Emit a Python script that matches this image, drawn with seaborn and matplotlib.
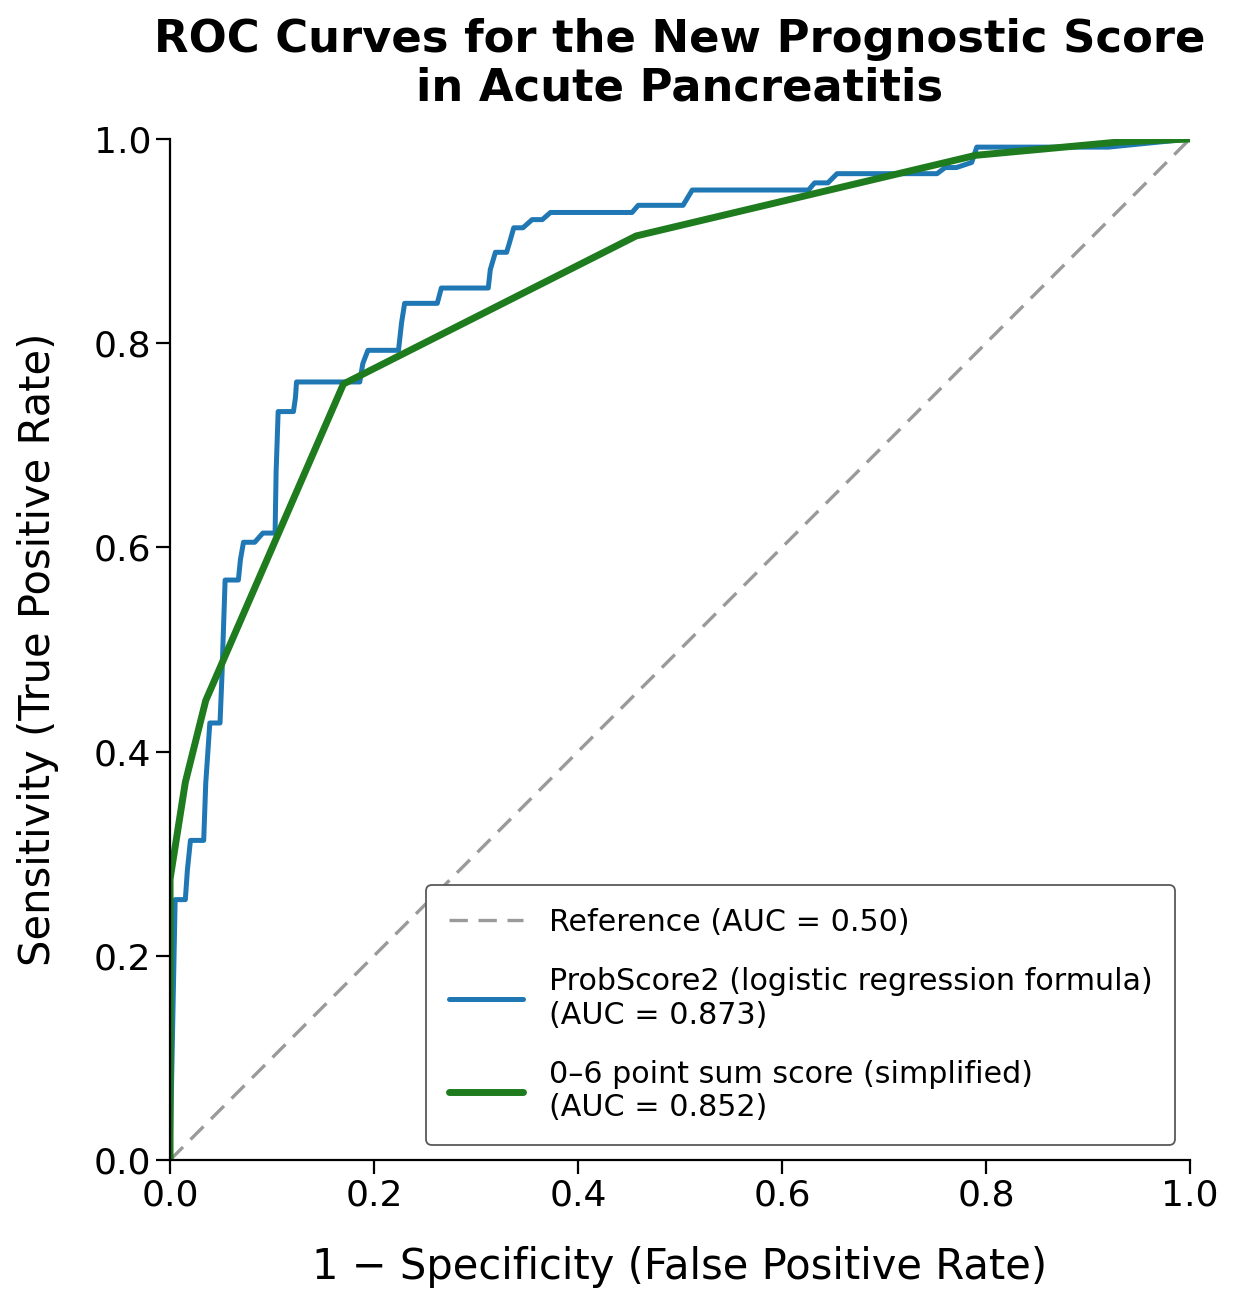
import matplotlib
matplotlib.use("Agg")
import matplotlib.pyplot as plt
import seaborn as sns

# ROC points
prob_fpr = [0.0, 0.005, 0.015, 0.017, 0.020, 0.033, 0.035, 0.039, 0.049, 0.051,
            0.052, 0.054, 0.067, 0.069, 0.072, 0.083, 0.091, 0.103, 0.104, 0.106,
            0.121, 0.123, 0.124, 0.186, 0.189, 0.194, 0.224, 0.227, 0.230, 0.262,
            0.266, 0.312, 0.314, 0.319, 0.330, 0.333, 0.337, 0.346, 0.355, 0.365,
            0.373, 0.453, 0.459, 0.503, 0.512, 0.626, 0.632, 0.645, 0.654, 0.752,
            0.760, 0.771, 0.786, 0.791, 0.920, 1.0]
prob_tpr = [0.0, 0.255, 0.255, 0.284, 0.313, 0.313, 0.369, 0.428, 0.428, 0.477,
            0.509, 0.568, 0.568, 0.588, 0.605, 0.605, 0.614, 0.614, 0.674, 0.733,
            0.733, 0.747, 0.762, 0.762, 0.780, 0.793, 0.793, 0.820, 0.839, 0.839,
            0.854, 0.854, 0.872, 0.889, 0.889, 0.899, 0.913, 0.913, 0.921, 0.921,
            0.928, 0.928, 0.935, 0.935, 0.950, 0.950, 0.957, 0.957, 0.966, 0.966,
            0.972, 0.972, 0.977, 0.992, 0.992, 1.0]

sum_fpr = [0.0, 0.0, 0.015, 0.035, 0.170, 0.457, 0.790, 0.930, 1.0]
sum_tpr = [0.0, 0.275, 0.370, 0.450, 0.760, 0.905, 0.984, 0.997, 1.0]

ref_xy = [0.0, 1.0]

labels = [
    "Reference (AUC = 0.50)",
    "ProbScore2 (logistic regression formula)\n(AUC = 0.873)",
    "0\u20136 point sum score (simplified)\n(AUC = 0.852)",
]

sns.set_style("ticks")
plt.rcParams["font.family"] = ["DejaVu Sans"]
plt.rcParams["axes.linewidth"] = 1.6
plt.rcParams["axes.edgecolor"] = "black"
plt.rcParams["text.color"] = "black"
plt.rcParams["axes.labelcolor"] = "black"

fig = plt.figure(figsize=(12.34, 13.06), dpi=100)
ax = fig.add_axes([0.1378, 0.1118, 0.8265, 0.7818])

sns.lineplot(x=ref_xy, y=ref_xy, ax=ax, color="#9a9a9a", lw=2.4,
             linestyle=(0, (5.5, 3.2)), label=labels[0])
sns.lineplot(x=prob_fpr, y=prob_tpr, ax=ax, color="#1f77b4", lw=3.6,
             sort=False, estimator=None, label=labels[1])
sns.lineplot(x=sum_fpr, y=sum_tpr, ax=ax, color="#1e7b1e", lw=5.0,
             sort=False, estimator=None, label=labels[2])

ax.set_xlim(0, 1)
ax.set_ylim(0, 1)
ticks = [0.0, 0.2, 0.4, 0.6, 0.8, 1.0]
ax.set_xticks(ticks)
ax.set_yticks(ticks)
ax.set_xticklabels([f"{t:.1f}" for t in ticks])
ax.set_yticklabels([f"{t:.1f}" for t in ticks])
ax.tick_params(labelsize=26, length=10, width=1.6, colors="black")
sns.despine(ax=ax)

ax.set_xlabel("1 \u2212 Specificity (False Positive Rate)", fontsize=30, labelpad=24)
ax.set_ylabel("Sensitivity (True Positive Rate)", fontsize=30, labelpad=25)
ax.set_title("ROC Curves for the New Prognostic Score\nin Acute Pancreatitis",
             fontsize=32.3, fontweight="bold", pad=28, linespacing=1.15)

leg = ax.legend(loc="lower right", fontsize=21.7, frameon=True, fancybox=True,
                handlelength=2.45, labelspacing=1.0, borderpad=0.75,
                handletextpad=0.85, borderaxespad=0.5)
leg.get_frame().set_edgecolor("0.35")
leg.get_frame().set_linewidth(1.3)
leg.get_frame().set_alpha(1.0)
for t in leg.get_texts():
    t.set_color("black")

fig.savefig("out.png", dpi=100)
